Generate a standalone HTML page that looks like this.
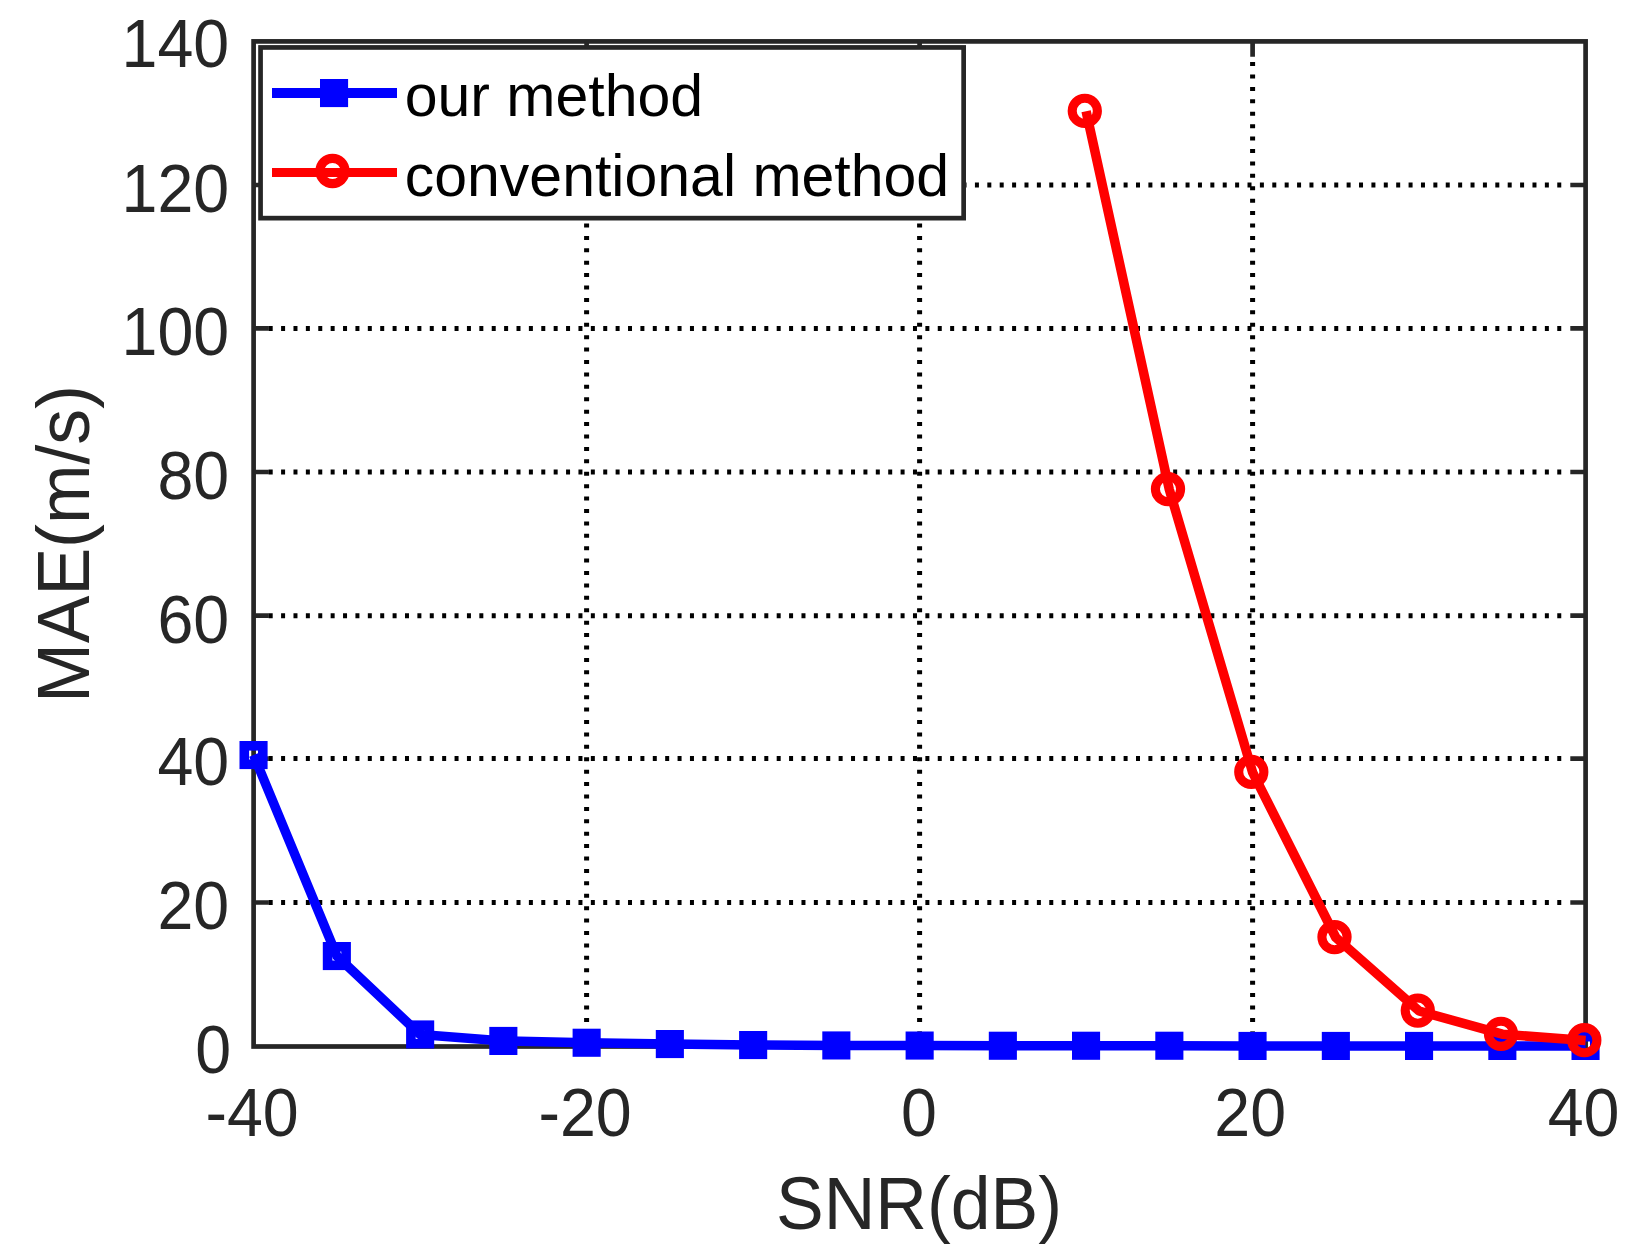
<!DOCTYPE html>
<html lang="en"><head><meta charset="utf-8"><title>MAE vs SNR</title>
<style>html,body{margin:0;padding:0;background:#fff;}body{width:1637px;height:1258px;overflow:hidden;}svg{display:block;}text{font-family:"Liberation Sans",sans-serif;}</style>
</head><body>
<svg width="1637" height="1258" viewBox="0 0 1637 1258">
<rect x="0" y="0" width="1637" height="1258" fill="#ffffff"/>
<g stroke="#000000" stroke-width="5" fill="none">
<path stroke-dasharray="4 8.39" d="M268.7 902.5H1569M268.7 758.6H1569M268.7 615.7H1569M268.7 472.0H1569M268.7 328.4H1569M268.7 185.0H1569"/>
<path stroke-dasharray="4 8.413" d="M586.6 62.1V1030M919.6 62.1V1030M1252.6 62.1V1030"/>
</g>
<g stroke="#262626" stroke-width="4.7" fill="none">
<rect x="253.6" y="41.4" width="1332.0" height="1005.1"/>
<path d="M586.6 1046.5v-15.3M586.6 41.4v15.3M919.6 1046.5v-15.3M919.6 41.4v15.3M1252.6 1046.5v-15.3M1252.6 41.4v15.3M253.6 902.5h15.3M1585.6 902.5h-15.3M253.6 758.6h15.3M1585.6 758.6h-15.3M253.6 615.7h15.3M1585.6 615.7h-15.3M253.6 472.0h15.3M1585.6 472.0h-15.3M253.6 328.4h15.3M1585.6 328.4h-15.3M253.6 185.0h15.3M1585.6 185.0h-15.3"/>
</g>
<g stroke="#0000ff" fill="none" stroke-width="9.5" stroke-linejoin="round">
<polyline points="253.6,755.0 336.9,956.0 420.1,1034.5 503.4,1040.9 586.6,1042.8 669.9,1044.0 753.1,1045.0 836.4,1045.4 919.6,1045.6 1002.9,1045.7 1086.1,1045.8 1169.3,1045.8 1252.6,1045.9 1335.8,1045.9 1419.1,1045.9 1502.3,1045.9 1585.6,1045.9"/>
<rect x="244.3" y="745.8" width="18.5" height="18.5" stroke-width="9.6" stroke-linejoin="miter"/>
<rect x="327.6" y="946.8" width="18.5" height="18.5" stroke-width="9.6" stroke-linejoin="miter"/>
<rect x="410.9" y="1025.2" width="18.5" height="18.5" stroke-width="9.6" stroke-linejoin="miter"/>
<rect x="494.1" y="1031.7" width="18.5" height="18.5" stroke-width="9.6" stroke-linejoin="miter" fill="#0000ff"/>
<rect x="577.4" y="1033.5" width="18.5" height="18.5" stroke-width="9.6" stroke-linejoin="miter" fill="#0000ff"/>
<rect x="660.6" y="1034.8" width="18.5" height="18.5" stroke-width="9.6" stroke-linejoin="miter" fill="#0000ff"/>
<rect x="743.9" y="1035.8" width="18.5" height="18.5" stroke-width="9.6" stroke-linejoin="miter" fill="#0000ff"/>
<rect x="827.1" y="1036.2" width="18.5" height="18.5" stroke-width="9.6" stroke-linejoin="miter" fill="#0000ff"/>
<rect x="910.4" y="1036.3" width="18.5" height="18.5" stroke-width="9.6" stroke-linejoin="miter" fill="#0000ff"/>
<rect x="993.6" y="1036.5" width="18.5" height="18.5" stroke-width="9.6" stroke-linejoin="miter" fill="#0000ff"/>
<rect x="1076.8" y="1036.5" width="18.5" height="18.5" stroke-width="9.6" stroke-linejoin="miter" fill="#0000ff"/>
<rect x="1160.1" y="1036.5" width="18.5" height="18.5" stroke-width="9.6" stroke-linejoin="miter" fill="#0000ff"/>
<rect x="1243.3" y="1036.7" width="18.5" height="18.5" stroke-width="9.6" stroke-linejoin="miter" fill="#0000ff"/>
<rect x="1326.6" y="1036.7" width="18.5" height="18.5" stroke-width="9.6" stroke-linejoin="miter" fill="#0000ff"/>
<rect x="1409.8" y="1036.7" width="18.5" height="18.5" stroke-width="9.6" stroke-linejoin="miter" fill="#0000ff"/>
<rect x="1493.1" y="1036.7" width="18.5" height="18.5" stroke-width="9.6" stroke-linejoin="miter" fill="#0000ff"/>
<rect x="1576.3" y="1036.7" width="18.5" height="18.5" stroke-width="9.6" stroke-linejoin="miter"/>
</g>
<g stroke="#ff0000" fill="none" stroke-width="9.5" stroke-linejoin="round">
<polyline points="1086.1,111.3 1169.3,489.5 1252.6,772.3 1335.8,937.5 1419.1,1011.0 1502.3,1034.2 1585.6,1040.6"/>
<circle cx="1084.8" cy="110.9" r="12.6" stroke-width="9.1"/>
<circle cx="1168.0" cy="489.1" r="12.6" stroke-width="9.1"/>
<circle cx="1251.3" cy="771.9" r="12.6" stroke-width="9.1"/>
<circle cx="1334.5" cy="937.1" r="12.6" stroke-width="9.1"/>
<circle cx="1417.8" cy="1010.6" r="12.6" stroke-width="9.1"/>
<circle cx="1501.0" cy="1033.8" r="12.6" stroke-width="9.1"/>
<circle cx="1584.3" cy="1040.2" r="12.6" stroke-width="9.1"/>
</g>
<rect x="260.55" y="47.45" width="703.1" height="170.7" fill="#ffffff" stroke="#262626" stroke-width="4.7"/>
<path d="M272 93H397" stroke="#0000ff" stroke-width="9.8" fill="none"/>
<rect x="324.8" y="83.8" width="18.5" height="18.5" stroke="#0000ff" stroke-width="9.6" fill="#0000ff"/>
<path d="M272 172.45H397" stroke="#ff0000" stroke-width="9" fill="none"/>
<circle cx="332.5" cy="171" r="12.6" stroke="#ff0000" stroke-width="9.1" fill="none"/>
<g fill="#000000" font-size="59px">
<text transform="translate(404.7 116.0)" text-anchor="start">our method</text>
<text transform="translate(404.7 196.0)" text-anchor="start">conventional method</text>
</g>
<g fill="#262626" font-size="65.5px">
<text transform="translate(229.2 929.3) scale(0.985 1.04)" text-anchor="end">20</text>
<text transform="translate(229.2 785.4) scale(0.985 1.04)" text-anchor="end">40</text>
<text transform="translate(229.2 642.5) scale(0.985 1.04)" text-anchor="end">60</text>
<text transform="translate(229.2 498.8) scale(0.985 1.04)" text-anchor="end">80</text>
<text transform="translate(229.2 355.2) scale(0.985 1.04)" text-anchor="end">100</text>
<text transform="translate(229.2 211.8) scale(0.985 1.04)" text-anchor="end">120</text>
<text transform="translate(231.1 1073.3) scale(0.985 1.04)" text-anchor="end">0</text>
<text transform="translate(229.2 66.9) scale(0.985 1.04)" text-anchor="end">140</text>
<text transform="translate(252.1 1135.9) scale(0.985 1.04)" text-anchor="middle">-40</text>
<text transform="translate(585.1 1135.9) scale(0.985 1.04)" text-anchor="middle">-20</text>
<text transform="translate(919.0 1135.9) scale(0.985 1.04)" text-anchor="middle">0</text>
<text transform="translate(1250.2 1135.9) scale(0.985 1.04)" text-anchor="middle">20</text>
<text transform="translate(1583.6 1135.9) scale(0.985 1.04)" text-anchor="middle">40</text>
</g>
<g fill="#262626" font-size="71.5px">
<text transform="translate(919.0 1228.8) scale(1.0 1.03)" text-anchor="middle">SNR(dB)</text>
<text transform="translate(89.0 544.0) rotate(-90) scale(1.0 1.03)" text-anchor="middle">MAE(m/s)</text>
</g>
</svg>
</body></html>
